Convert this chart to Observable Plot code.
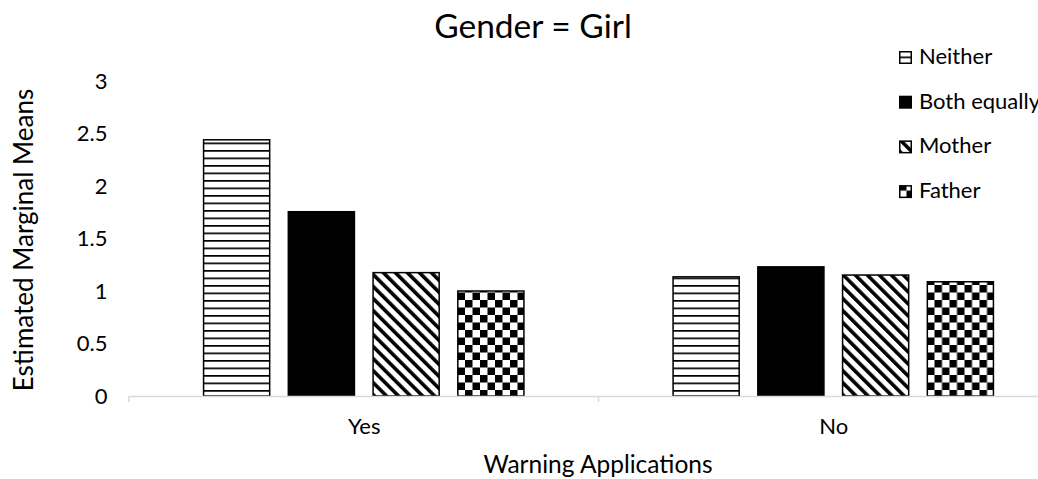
<!DOCTYPE html>
<html>
<head>
<meta charset="utf-8">
<script src="https://cdn.jsdelivr.net/npm/d3@7"></script>
<script src="https://cdn.jsdelivr.net/npm/@observablehq/plot@0.6"></script>
<style>
  html, body { margin: 0; padding: 0; background: #fff; overflow: hidden; }
  #wrap { position: relative; width: 1038px; height: 479px; overflow: hidden; }
  #wrap > svg.plotsvg { max-width: none !important; }
  #overlay { position: absolute; left: 0; top: 0; pointer-events: none; }
</style>
</head>
<body>
<svg width="0" height="0" style="position:absolute">
  <defs>
    <pattern id="pat-neither" patternUnits="userSpaceOnUse" width="8" height="7.5">
      <rect width="8" height="7.5" fill="#fff"></rect>
      <rect y="0" width="8" height="1.7" fill="#000"></rect>
    </pattern>
    <pattern id="pat-mother" patternUnits="userSpaceOnUse" width="8.5" height="8.5" patternTransform="rotate(-45)">
      <rect width="8.5" height="8.5" fill="#fff"></rect>
      <rect x="0" width="3.6" height="8.5" fill="#000"></rect>
    </pattern>
    <pattern id="pat-father" patternUnits="userSpaceOnUse" width="15" height="15">
      <rect width="15" height="15" fill="#fff"></rect>
      <rect x="0" y="0" width="7.5" height="7.5" fill="#000"></rect>
      <rect x="7.5" y="7.5" width="7.5" height="7.5" fill="#000"></rect>
    </pattern>
  </defs>
</svg>
<div id="wrap"></div>
<script>
const title = "Gender = Girl";
const xTitle = "Warning Applications";
const yTitle = "Estimated Marginal Means";
const groups = ["Yes", "No"];
const series = ["Neither", "Both equally", "Mother", "Father"];
const seriesFills = ["url(#pat-neither)", "#000", "url(#pat-mother)", "url(#pat-father)"];
const yesValues = [2.44, 1.755, 1.175, 1.0];
const noValues = [1.135, 1.23, 1.152, 1.088];
const yTicks = [0, 0.5, 1, 1.5, 2, 2.5, 3];

const data = [];
series.forEach((s, i) => {
  data.push({group: groups[0], series: s, value: yesValues[i]});
  data.push({group: groups[1], series: s, value: noValues[i]});
});

const FONT = "Lato, 'Open Sans', sans-serif";
const W = 1068, H = 479;

const chart = Plot.plot({
  width: W,
  height: H,
  marginTop: 81,
  marginBottom: 83,
  marginLeft: 129,
  marginRight: 0,
  style: {fontFamily: FONT, fontSize: "22px", color: "#000", background: "transparent", overflow: "visible", maxWidth: "none"},
  fx: {domain: groups, padding: 0, round: false, tickSize: 0, tickPadding: 22, label: null},
  x: {domain: series, axis: null, round: false, paddingInner: 0.22, paddingOuter: 0.88},
  y: {domain: [0, 3], ticks: yTicks, tickSize: 0, tickPadding: 22, label: null, tickFormat: d => String(d)},
  color: {type: "ordinal", domain: series, range: seriesFills},
  marks: [
    Plot.barY(data, {fx: "group", x: "series", y: "value", fill: "series", stroke: "#000", strokeWidth: 1.5}),
    Plot.ruleY([0], {stroke: "#d9d9d9", strokeWidth: 1.5})
  ]
});
chart.classList.add("plotsvg");
chart.style.maxWidth = "none";

const wrap = document.getElementById("wrap");
wrap.appendChild(chart);

// overlay: titles, boundary ticks, legend
const fx = chart.scale("fx");
const y = chart.scale("y");
const ov = d3.select(wrap).append("svg")
  .attr("id", "overlay").attr("width", 1038).attr("height", H)
  .style("font-family", FONT);

// category boundary tick marks
ov.selectAll("line.tick").data(groups).join("line")
  .attr("x1", g => fx.apply(g)).attr("x2", g => fx.apply(g))
  .attr("y1", y.apply(0)).attr("y2", y.apply(0) + 6)
  .attr("stroke", "#d9d9d9").attr("stroke-width", 1.5);

ov.append("text").attr("x", 533).attr("y", 38).attr("text-anchor", "middle")
  .attr("font-size", 33.5).attr("fill", "#000").text(title);
ov.append("text").attr("x", 598).attr("y", 473).attr("text-anchor", "middle")
  .attr("font-size", 24.5).attr("fill", "#000").text(xTitle);
ov.append("text").attr("transform", "translate(33,240) rotate(-90)").attr("text-anchor", "middle")
  .attr("font-size", 26).attr("fill", "#000").text(yTitle);

// legend
const leg = ov.append("g");
const rows = leg.selectAll("g").data(series).join("g")
  .attr("transform", (d, i) => `translate(899, ${64 + i * 44.7})`);
rows.append("rect").attr("x", 0.75).attr("y", -12.25).attr("width", 11.5).attr("height", 11.5)
  .attr("fill", (d, i) => seriesFills[i]).attr("stroke", "#000").attr("stroke-width", 1.5);
rows.append("text").attr("x", 20).attr("y", 0).attr("font-size", 22).attr("fill", "#000").text(d => d);
</script>
</body>
</html>
